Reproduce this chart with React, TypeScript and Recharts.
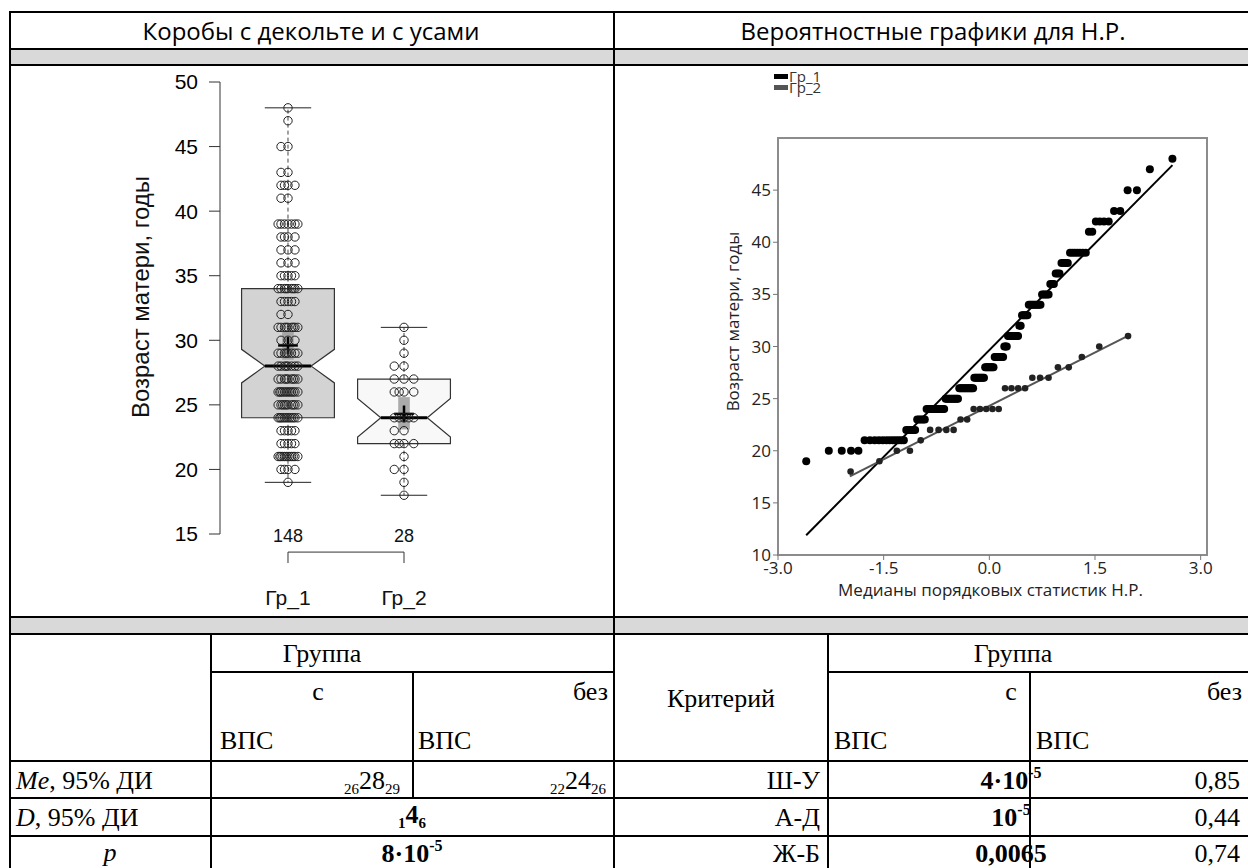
import React from 'react';
import { ComposedChart, Scatter, XAxis, YAxis, ReferenceArea, ReferenceLine } from 'recharts';

// ---------- data ----------
const GROUPS = ['Гр_1', 'Гр_2'];
const GROUP_N = [148, 28];
const GROUP_POS = [1, 2];

// distinct ages and how many mothers had each age
const GR1_AGES = [19, 20, 21, 22, 23, 24, 25, 26, 27, 28, 29, 30, 31, 32, 33, 34, 35, 36, 37, 38, 39, 41, 42, 43, 45, 47, 48];
const GR1_COUNTS = [1, 4, 12, 5, 5, 12, 10, 12, 9, 8, 8, 3, 9, 2, 5, 9, 5, 3, 3, 4, 7, 2, 4, 2, 2, 1, 1];
const GR2_AGES = [18, 19, 20, 21, 22, 23, 24, 26, 27, 28, 29, 30, 31];
const GR2_COUNTS = [1, 1, 2, 1, 4, 2, 5, 4, 3, 2, 1, 1, 1];

// box statistics
const BOX_Q1 = [24, 22];
const BOX_MEDIAN = [28, 24];
const BOX_Q3 = [34, 27];
const NOTCH_LO = [26.7, 22.5];
const NOTCH_HI = [29.3, 25.5];
const WHISKER_LO = [19, 18];
const WHISKER_HI = [48, 31];
const MEAN = [29.6, 24.3];
const MEAN_CI_LO = [28.5, 23.1];
const MEAN_CI_HI = [30.7, 25.6];
const BOX_FILL = ['#d3d3d3', '#f8f8f8'];

const BOX_Y_TICKS = [15, 20, 25, 30, 35, 40, 45, 50];
const QQ_X_TICKS = [-3, -1.5, 0, 1.5, 3];
const QQ_Y_TICKS = [10, 15, 20, 25, 30, 35, 40, 45];

// normal reference lines of the probability plot
const FIT_START = [{ x: -2.6, y: 11.9 }, { x: -1.98, y: 17.55 }];
const FIT_END = [{ x: 2.6, y: 47.4 }, { x: 1.96, y: 31.0 }];

// horizontal jitter pattern of the strip points (layout only)
const JITTER = [0, -0.06, 0.06, -0.03, 0.03, -0.085, 0.085, -0.015, 0.045, -0.045, 0.015, -0.07];
const JITTER_SCALE = [1, 1.4];

// ---------- helpers ----------
function normInv(p: number): number {
  const a = [-3.969683028665376e1, 2.209460984245205e2, -2.759285104469687e2, 1.38357751867269e2, -3.066479806614716e1, 2.506628277459239];
  const b = [-5.447609879822406e1, 1.615858368580409e2, -1.556989798598866e2, 6.680131188771972e1, -1.328068155288572e1];
  const c = [-7.784894002430293e-3, -3.223964580411365e-1, -2.400758277161838, -2.549732539343734, 4.374664141464968, 2.938163982698783];
  const d = [7.784695709041462e-3, 3.224671290700398e-1, 2.445134137142996, 3.754408661907416];
  const pl = 0.02425;
  if (p < pl) {
    const q = Math.sqrt(-2 * Math.log(p));
    return (((((c[0] * q + c[1]) * q + c[2]) * q + c[3]) * q + c[4]) * q + c[5]) / ((((d[0] * q + d[1]) * q + d[2]) * q + d[3]) * q + 1);
  }
  if (p > 1 - pl) {
    const q = Math.sqrt(-2 * Math.log(1 - p));
    return -(((((c[0] * q + c[1]) * q + c[2]) * q + c[3]) * q + c[4]) * q + c[5]) / ((((d[0] * q + d[1]) * q + d[2]) * q + d[3]) * q + 1);
  }
  const q = p - 0.5;
  const r = q * q;
  return ((((((a[0] * r + a[1]) * r + a[2]) * r + a[3]) * r + a[4]) * r + a[5]) * q) / (((((b[0] * r + b[1]) * r + b[2]) * r + b[3]) * r + b[4]) * r + 1);
}

// Filliben order statistic medians
function orderMedian(i: number, n: number): number {
  const mn = Math.pow(0.5, 1 / n);
  if (i === n) return mn;
  if (i === 1) return 1 - mn;
  return (i - 0.3175) / (n + 0.365);
}

function expand(ages: number[], counts: number[]) {
  const out: { age: number; dup: number }[] = [];
  ages.forEach((a, k) => {
    for (let j = 0; j < counts[k]; j++) out.push({ age: a, dup: j });
  });
  return out;
}

const RAW = [expand(GR1_AGES, GR1_COUNTS), expand(GR2_AGES, GR2_COUNTS)];
const STRIP = RAW.map((pts, g) =>
  pts.map((p) => ({ x: GROUP_POS[g] + JITTER[p.dup % JITTER.length] * JITTER_SCALE[g], y: p.age }))
);
const QQ = RAW.map((pts) => pts.map((p, i) => ({ x: normInv(orderMedian(i + 1, pts.length)), y: p.age })));

// ---------- left chart ----------
const SANS = 'Liberation Sans, Arial, sans-serif';
const SEGOE = 'Open Sans, Noto Sans, sans-serif';
const SERIF = 'Liberation Serif, Times New Roman, serif';

function notchedBox(g: number) {
  return (p: any) => {
    const { x, y, width: w, height: h } = p;
    const q3 = BOX_Q3[g];
    const q1 = BOX_Q1[g];
    const py = (v: number) => y + (h * (q3 - v)) / (q3 - q1);
    const inset = w * 0.25;
    const hi = py(NOTCH_HI[g]);
    const lo = py(NOTCH_LO[g]);
    const md = py(BOX_MEDIAN[g]);
    const pts = [
      [x, y], [x + w, y], [x + w, hi], [x + w - inset, md], [x + w, lo], [x + w, y + h],
      [x, y + h], [x, lo], [x + inset, md], [x, hi],
    ].map((q) => q.join(',')).join(' ');
    return <polygon points={pts} fill={BOX_FILL[g]} stroke="#333" strokeWidth={1.2} />;
  };
}

const GroupTick = (props: any) => {
  const { x, y, payload } = props;
  const i = GROUP_POS.indexOf(payload.value);
  return (
    <g>
      <text x={x} y={y + 8} textAnchor="middle" fontSize={18} fontFamily={SANS} fill="#111">{GROUP_N[i]}</text>
      <text x={x} y={y + 71} textAnchor="middle" fontSize={21} fontFamily={SANS} fill="#111">{GROUPS[i]}</text>
    </g>
  );
};

const BRACKET_TOP = 13.6;
const BRACKET_BOTTOM = 12.75;

function BoxChart() {
  return (
    <ComposedChart width={400} height={560} margin={{ top: 22, right: 28, bottom: 16, left: 40 }}>
      <XAxis type="number" dataKey="x" domain={[0.414, 2.586]} ticks={GROUP_POS} interval={0} axisLine={false}
        tickLine={false} tickSize={0} tickMargin={0} height={70} tick={<GroupTick />} allowDataOverflow />
      <YAxis type="number" dataKey="y" domain={[15, 50]} ticks={BOX_Y_TICKS} interval={0} width={80} tickSize={11} tickMargin={11}
        axisLine={{ stroke: '#333' }} tickLine={{ stroke: '#333' }} allowDataOverflow
        tick={{ fontSize: 21, fill: '#000', fontFamily: SANS }}
        label={{
          content: (p: any) => {
            const vb = p.viewBox;
            const cx = vb.x;
            const cy = vb.y + vb.height / 2 - 11;
            return (
              <text x={cx} y={cy} transform={`rotate(-90 ${cx} ${cy})`} textAnchor="middle" dominantBaseline="central"
                fontSize={24} fontFamily={SANS} fill="#111">Возраст матери, годы</text>
            );
          },
        }} />
      {GROUP_POS.map((c, g) => (
        <ReferenceArea key={'box' + g} x1={c - 0.4} x2={c + 0.4} y1={BOX_Q1[g]} y2={BOX_Q3[g]} ifOverflow="visible" shape={notchedBox(g)} />
      ))}
      {GROUP_POS.map((c, g) => (
        <ReferenceLine key={'wh' + g} segment={[{ x: c, y: BOX_Q3[g] }, { x: c, y: WHISKER_HI[g] }]} stroke="#444" strokeDasharray="4 3" ifOverflow="visible" />
      ))}
      {GROUP_POS.map((c, g) => (
        <ReferenceLine key={'wl' + g} segment={[{ x: c, y: BOX_Q1[g] }, { x: c, y: WHISKER_LO[g] }]} stroke="#444" strokeDasharray="4 3" ifOverflow="visible" />
      ))}
      {GROUP_POS.map((c, g) => (
        <ReferenceLine key={'ch' + g} segment={[{ x: c - 0.2, y: WHISKER_HI[g] }, { x: c + 0.2, y: WHISKER_HI[g] }]} stroke="#222" ifOverflow="visible" />
      ))}
      {GROUP_POS.map((c, g) => (
        <ReferenceLine key={'cl' + g} segment={[{ x: c - 0.2, y: WHISKER_LO[g] }, { x: c + 0.2, y: WHISKER_LO[g] }]} stroke="#222" ifOverflow="visible" />
      ))}
      {STRIP.map((d, g) => (
        <Scatter key={'pts' + g} data={d} isAnimationActive={false}
          shape={(p: any) => <circle cx={p.cx} cy={p.cy} r={4.2} fill="none" stroke="#222" strokeWidth={1} />} />
      ))}
      {GROUP_POS.map((c, g) => (
        <ReferenceArea key={'ci' + g} x1={c - 0.05} x2={c + 0.05} y1={MEAN_CI_LO[g]} y2={MEAN_CI_HI[g]} fill="#9e9e9e" fillOpacity={0.85} stroke="none" ifOverflow="visible" />
      ))}
      {GROUP_POS.map((c, g) => (
        <ReferenceLine key={'md' + g} segment={[{ x: c - 0.2, y: BOX_MEDIAN[g] }, { x: c + 0.2, y: BOX_MEDIAN[g] }]} stroke="#000" strokeWidth={3} ifOverflow="visible" />
      ))}
      {GROUP_POS.map((c, g) => (
        <ReferenceLine key={'mh' + g} segment={[{ x: c - 0.085, y: MEAN[g] }, { x: c + 0.085, y: MEAN[g] }]} stroke="#000" strokeWidth={2.5} ifOverflow="visible" />
      ))}
      {GROUP_POS.map((c, g) => (
        <ReferenceLine key={'mv' + g} segment={[{ x: c, y: MEAN[g] - 0.65 }, { x: c, y: MEAN[g] + 0.65 }]} stroke="#000" strokeWidth={2.5} ifOverflow="visible" />
      ))}
      <ReferenceLine segment={[{ x: GROUP_POS[0], y: BRACKET_TOP }, { x: GROUP_POS[1], y: BRACKET_TOP }]} stroke="#333" ifOverflow="visible" />
      {GROUP_POS.map((c, g) => (
        <ReferenceLine key={'bt' + g} segment={[{ x: c, y: BRACKET_TOP }, { x: c, y: BRACKET_BOTTOM }]} stroke="#333" ifOverflow="visible" />
      ))}
    </ComposedChart>
  );
}

// ---------- right chart ----------
function QQChart() {
  return (
    <ComposedChart width={558} height={560} margin={{ top: 78, right: 41, bottom: 15, left: 38 }}>
      <XAxis type="number" dataKey="x" domain={[-3, 3.09]} ticks={QQ_X_TICKS} interval={0} allowDataOverflow
        tickFormatter={(v: number) => v.toFixed(1)} height={50} tickSize={5} tickMargin={2}
        axisLine={false} tickLine={{ stroke: '#777' }} tick={{ fontSize: 17, fill: '#222', fontFamily: SEGOE }}
        label={{
          content: (p: any) => {
            const vb = p.viewBox;
            return (
              <text x={vb.x + vb.width / 2 - 2} y={vb.y + 41} textAnchor="middle" fontSize={17} fontFamily={SEGOE} fill="#222">
                Медианы порядковых статистик Н.Р.
              </text>
            );
          },
        }} />
      <YAxis type="number" dataKey="y" domain={[10, 50]} ticks={QQ_Y_TICKS} interval={0} allowDataOverflow width={50}
        tickSize={5} tickMargin={2} axisLine={false} tickLine={{ stroke: '#777' }}
        tick={{ fontSize: 17, fill: '#222', fontFamily: SEGOE }}
        label={{
          content: (p: any) => {
            const vb = p.viewBox;
            const cx = vb.x + 4;
            const cy = vb.y + vb.height / 2 - 25;
            return (
              <text x={cx} y={cy} transform={`rotate(-90 ${cx} ${cy})`} textAnchor="middle" dominantBaseline="central"
                fontSize={17} fontFamily={SEGOE} fill="#222">Возраст матери, годы</text>
            );
          },
        }} />
      <ReferenceArea x1={-3} x2={3.09} y1={10} y2={50} fill="none" stroke="#8c8c8c" strokeWidth={2} ifOverflow="visible" />
      <ReferenceLine segment={[FIT_START[0], FIT_END[0]]} stroke="#000" strokeWidth={2} ifOverflow="visible" />
      <ReferenceLine segment={[FIT_START[1], FIT_END[1]]} stroke="#555" strokeWidth={2} ifOverflow="visible" />
      <Scatter data={QQ[0]} isAnimationActive={false}
        shape={(p: any) => <circle cx={p.cx} cy={p.cy} r={4} fill="#000" />} />
      <Scatter data={QQ[1]} isAnimationActive={false}
        shape={(p: any) => <circle cx={p.cx} cy={p.cy} r={3.3} fill="#222" />} />
    </ComposedChart>
  );
}

// ---------- table / frame ----------
const TFS = 26;
function Sub({ x, y, pre, main, post, anchor, bold }: any) {
  return (
    <text x={x} y={y} textAnchor={anchor} fontFamily={SERIF} fontSize={TFS} fontWeight={bold ? 'bold' : 'normal'} fill="#000">
      <tspan fontSize={15} dy={5}>{pre}</tspan>
      <tspan fontSize={TFS} dy={-5}>{main}</tspan>
      <tspan fontSize={15} dy={5}>{post}</tspan>
    </text>
  );
}
function Sup({ x, y, main, sup, anchor }: any) {
  return (
    <text x={x} y={y} textAnchor={anchor} fontFamily={SERIF} fontSize={TFS} fontWeight="bold" fill="#000">
      <tspan>{main}</tspan>
      <tspan fontSize={16} dy={-11}>{sup}</tspan>
    </text>
  );
}

function Frame() {
  const L = (x1: number, y1: number, x2: number, y2: number, k: string) => (
    <line key={k} x1={x1} y1={y1} x2={x2} y2={y2} stroke="#000" strokeWidth={2} />
  );
  const T = (x: number, y: number, s: string, anchor: string, extra: any = {}) => (
    <text x={x} y={y} textAnchor={anchor} fontFamily={SERIF} fontSize={TFS} fill="#000" {...extra}>{s}</text>
  );
  return (
    <svg width={1248} height={868} style={{ position: 'absolute', left: 0, top: 0 }}>
      <rect x={10} y={49} width={1238} height={16} fill="#d9d9d9" />
      <rect x={10} y={617} width={1238} height={17} fill="#d9d9d9" />
      {L(9, 12, 1248, 12, 'h1')}
      {L(9, 49, 1248, 49, 'h2')}
      {L(9, 65, 1248, 65, 'h3')}
      {L(9, 617, 1248, 617, 'h4')}
      {L(9, 634, 1248, 634, 'h5')}
      {L(211, 672, 614, 672, 'h6')}
      {L(828, 672, 1248, 672, 'h7')}
      {L(9, 761, 1248, 761, 'h8')}
      {L(9, 798, 1248, 798, 'h9')}
      {L(9, 836, 1248, 836, 'h10')}
      {L(10, 11, 10, 868, 'v1')}
      {L(614, 11, 614, 868, 'v2')}
      {L(211, 634, 211, 868, 'v3')}
      {L(413, 672, 413, 798, 'v4')}
      {L(828, 634, 828, 868, 'v5')}
      {L(1030, 672, 1030, 868, 'v6')}
      <text x={311} y={40} textAnchor="middle" fontFamily={SEGOE} fontSize={24} fill="#000">Коробы с декольте и с усами</text>
      <text x={933} y={40} textAnchor="middle" fontFamily={SEGOE} fontSize={24} fill="#000">Вероятностные графики для Н.Р.</text>
      {T(322, 662, 'Группа', 'middle')}
      {T(1013, 662, 'Группа', 'middle')}
      {T(318, 700, 'с', 'middle')}
      {T(608, 700, 'без', 'end')}
      {T(1011, 700, 'с', 'middle')}
      {T(1242, 700, 'без', 'end')}
      {T(220, 749, 'ВПС', 'start')}
      {T(418, 749, 'ВПС', 'start')}
      {T(834, 749, 'ВПС', 'start')}
      {T(1036, 749, 'ВПС', 'start')}
      {T(721, 707, 'Критерий', 'middle')}
      <text x={16} y={789} fontFamily={SERIF} fontSize={TFS} fill="#000"><tspan fontStyle="italic">Me</tspan>, 95% ДИ</text>
      <text x={16} y={826} fontFamily={SERIF} fontSize={TFS} fill="#000"><tspan fontStyle="italic">D</tspan>, 95% ДИ</text>
      <text x={110} y={861} textAnchor="middle" fontFamily={SERIF} fontSize={TFS} fontStyle="italic" fill="#000">p</text>
      <Sub x={400} y={789} pre="26" main="28" post="29" anchor="end" />
      <Sub x={606} y={789} pre="22" main="24" post="26" anchor="end" />
      <Sub x={412} y={823} pre="1" main="4" post="6" anchor="middle" bold />
      <Sup x={412} y={862} main="8·10" sup="-5" anchor="middle" />
      {T(820, 789, 'Ш-У', 'end')}
      {T(820, 826, 'А-Д', 'end')}
      {T(820, 862, 'Ж-Б', 'end')}
      <Sup x={1011} y={789} main="4·10" sup="-5" anchor="middle" />
      <Sup x={1011} y={826} main="10" sup="-5" anchor="middle" />
      <text x={1011} y={862} textAnchor="middle" fontFamily={SERIF} fontSize={TFS} fontWeight="bold" fill="#000">0,0065</text>
      {T(1240, 789, '0,85', 'end')}
      {T(1240, 826, '0,44', 'end')}
      {T(1240, 862, '0,74', 'end')}
      {/* legend of the probability plot */}
      <rect x={774} y={74} width={14} height={5} fill="#000" />
      <rect x={774} y={85} width={14} height={5} fill="#555" />
      <text x={789} y={82} fontFamily={SEGOE} fontSize={15} fill="#333">Гр_1</text>
      <text x={789} y={93} fontFamily={SEGOE} fontSize={15} fill="#333">Гр_2</text>
    </svg>
  );
}

export default function App() {
  return (
    <div style={{ position: 'absolute', left: 0, top: 0, width: 1248, height: 868, background: '#fff', overflow: 'hidden' }}>
      <Frame />
      <div style={{ position: 'absolute', left: 100, top: 60 }}>
        <BoxChart />
      </div>
      <div style={{ position: 'absolute', left: 690, top: 60 }}>
        <QQChart />
      </div>
    </div>
  );
}
